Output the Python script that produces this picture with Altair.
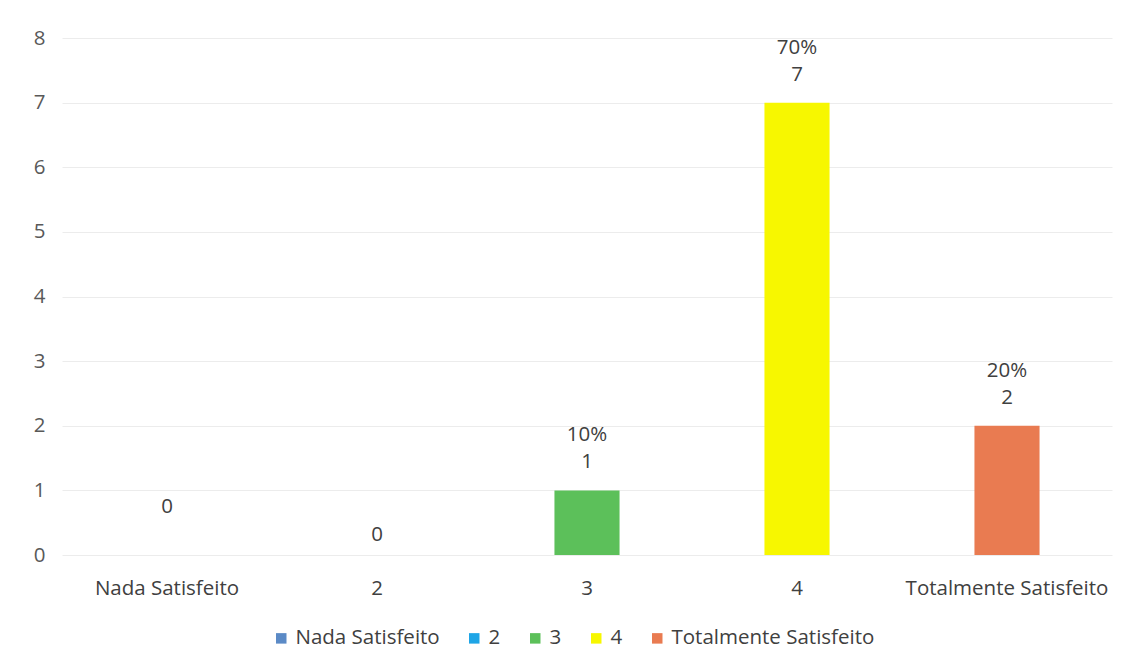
import altair as alt
import pandas as pd

categories = ["Nada Satisfeito", "2", "3", "4", "Totalmente Satisfeito"]
counts = [0, 0, 1, 7, 2]
percents = ["", "", "10%", "70%", "20%"]
colors = ["#5b8ac6", "#1ea5e6", "#5cc05a", "#f7f700", "#e97b51"]

df = pd.DataFrame({"cat": categories, "count": counts, "pct": percents})
df["label"] = df["count"].astype(str)

FONT = "Open Sans"
TXT = "#404040"
FS = 20.5

x = alt.X("cat:N", sort=categories, title=None,
          scale=alt.Scale(paddingInner=0.69, paddingOuter=0.345),
          axis=alt.Axis(labelAngle=0, domain=False, ticks=False, labelPadding=23,
                        labelFontSize=FS, labelColor="#404040", labelFont=FONT, labelLimit=400))
y = alt.Y("count:Q", title=None,
          scale=alt.Scale(domain=[0, 8], nice=False),
          axis=alt.Axis(values=list(range(9)), format="d", domain=False, ticks=False,
                        labelPadding=17, labelFontSize=FS, labelColor="#595959", labelFont=FONT,
                        grid=True, gridColor="#ececec", gridWidth=1))

base = alt.Chart(df)

bars = base.mark_bar().encode(
    x=x, y=y,
    color=alt.Color("cat:N", sort=categories,
                    scale=alt.Scale(domain=categories, range=colors),
                    legend=alt.Legend(title=None, orient="none", direction="horizontal",
                                      legendX=209, legendY=590, symbolType="square",
                                      symbolSize=110, symbolStrokeWidth=0,
                                      labelFontSize=FS, labelColor="#404040", labelFont=FONT,
                                      labelLimit=400, columnPadding=24, labelOffset=4)),
)

nonzero = base.transform_filter("datum.count > 0")
xe = alt.X("cat:N", sort=categories)

cnt_text = nonzero.mark_text(fontSize=FS, font=FONT, color=TXT, dy=-28).encode(
    x=xe, y="count:Q", text="label:N")
pct_text = nonzero.mark_text(fontSize=FS, font=FONT, color=TXT, dy=-55).encode(
    x=xe, y="count:Q", text="pct:N")

zero_a = base.transform_filter("datum.count == 0 && datum.cat == 'Nada Satisfeito'").mark_text(
    fontSize=FS, font=FONT, color=TXT, dy=-48).encode(x=xe, y="count:Q", text="label:N")
zero_b = base.transform_filter("datum.count == 0 && datum.cat != 'Nada Satisfeito'").mark_text(
    fontSize=FS, font=FONT, color=TXT, dy=-20).encode(x=xe, y="count:Q", text="label:N")

chart = alt.layer(bars, cnt_text, pct_text, zero_a, zero_b).properties(
    width=1050, height=517,
    autosize=alt.AutoSizeParams(type="none"),
    padding={"left": 62, "top": 38, "right": 25, "bottom": 115},
    background="white",
).configure_view(stroke=None)

chart.save("out.html", embed_options={"renderer": "svg", "actions": False})
